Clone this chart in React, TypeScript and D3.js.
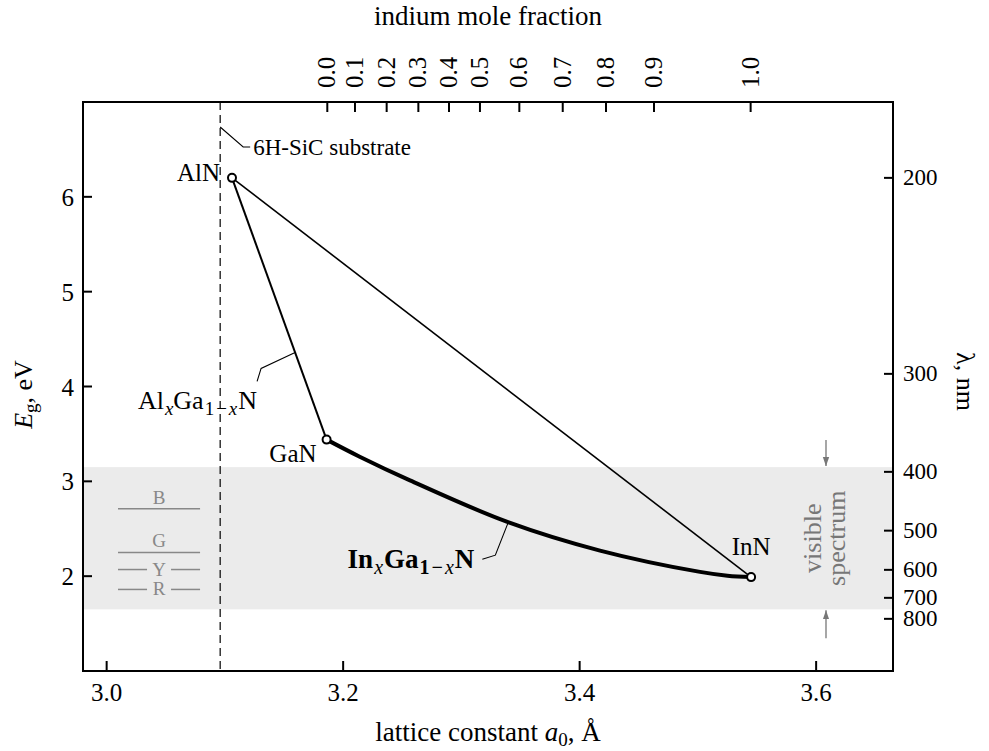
import React from "react";
import * as d3 from "d3";

// ---- data ----
const latticeTicks = [3.0, 3.2, 3.4, 3.6];
const energyTicks = [2, 3, 4, 5, 6];
const wavelengthTicks = [200, 300, 400, 500, 600, 700, 800];
const moleFractionLabels = ["0.0", "0.1", "0.2", "0.3", "0.4", "0.5", "0.6", "0.7", "0.8", "0.9", "1.0"];
const moleFractionLattice = [3.1866, 3.21, 3.2368, 3.2636, 3.2895, 3.3157, 3.349, 3.3857, 3.4223, 3.4629, 3.5446];

const compoundNames = ["AlN", "GaN", "InN"];
const compoundLattice = [3.106, 3.186, 3.545];
const compoundGap = [6.2, 3.44, 1.99];

const inGaNLattice = [3.186, 3.214, 3.2565, 3.3383, 3.4172, 3.5018, 3.525, 3.545];
const inGaNGap = [3.44, 3.26, 3.01, 2.575, 2.27, 2.045, 2.005, 1.99];

const substrateLattice = 3.096;
const visibleBand = [1.65, 3.15];
const colorNames = ["B", "G", "Y", "R"];
const colorGaps = [2.71, 2.25, 2.07, 1.86];

const W = 989, H = 751;
const FONT = "'Liberation Serif', 'Times New Roman', serif";

export default function App() {
  const x = d3.scaleLinear().domain([2.98, 3.665]).range([83, 893]);
  const y = d3.scaleLinear().domain([1, 7]).range([671, 102]);
  const [x0, x1] = x.range();
  const [yb, yt] = y.range();

  const curve = d3
    .line<number>()
    .x((_, i) => x(inGaNLattice[i]))
    .y((_, i) => y(inGaNGap[i]))
    .curve(d3.curveCatmullRom.alpha(0.5))(inGaNLattice);

  const pt = (i: number) => [x(compoundLattice[i]), y(compoundGap[i])];
  const [alx, aly] = pt(0);
  const [gax, gay] = pt(1);
  const [inx, iny] = pt(2);

  // leader anchor on AlN-GaN line
  const t = 0.667;
  const algLx = alx + (gax - alx) * t;
  const algLy = aly + (gay - aly) * t;
  // leader anchor on InGaN curve
  const aL = 3.3397;
  const eL = d3.scaleLinear().domain(inGaNLattice).range(inGaNGap)(aL);
  const ingLx = x(aL), ingLy = y(eL);

  const grey = "#777";
  const legendA0 = 3.0096, legendA1 = 3.079, legendAc = 3.0443;

  return (
    <svg width={W} height={H} style={{ position: "absolute", left: 0, top: 0, background: "#fff" }} fontFamily={FONT}>
      <defs>
        <marker id="arr" viewBox="0 0 10 10" refX="10" refY="5" markerWidth="7" markerHeight="7" orient="auto-start-reverse">
          <path d="M0,1.5 L10,5 L0,8.5 z" fill={grey} />
        </marker>
      </defs>
      {/* visible band */}
      <rect x={x0} width={x1 - x0} y={y(visibleBand[1])} height={y(visibleBand[0]) - y(visibleBand[1])} fill="#ebebeb" />

      {/* colour legend */}
      {colorNames.map((c, i) => {
        const yy = y(colorGaps[i]);
        const above = i < 2;
        return (
          <g key={c} stroke="#888" fill="#888">
            {above ? (
              <line x1={x(legendA0)} x2={x(legendA1)} y1={yy} y2={yy} strokeWidth={1.5} />
            ) : (
              <>
                <line x1={x(legendA0)} x2={x(legendAc) - 12} y1={yy} y2={yy} strokeWidth={1.5} />
                <line x1={x(legendAc) + 12} x2={x(legendA1)} y1={yy} y2={yy} strokeWidth={1.5} />
              </>
            )}
            <text x={x(legendAc)} y={above ? yy - 5 : yy + 6} textAnchor="middle" fontSize={19} stroke="none">
              {c}
            </text>
          </g>
        );
      })}

      {/* substrate dashed line */}
      <line x1={x(substrateLattice)} x2={x(substrateLattice)} y1={yt} y2={yb} stroke="#000" strokeWidth={1.2} strokeDasharray="8,5" />
      <polyline
        points={`${x(substrateLattice)},${yt + 25} ${x(substrateLattice) + 23},${yt + 45} ${x(substrateLattice) + 30},${yt + 45}`}
        fill="none" stroke="#000" strokeWidth={1.1}
      />
      <text x={x(substrateLattice) + 33} y={yt + 53} fontSize={23}>6H-SiC substrate</text>

      {/* lines */}
      <line x1={alx} y1={aly} x2={inx} y2={iny} stroke="#000" strokeWidth={1.6} />
      <line x1={alx} y1={aly} x2={gax} y2={gay} stroke="#000" strokeWidth={2} />
      <path d={curve || ""} fill="none" stroke="#000" strokeWidth={4} strokeLinecap="round" />

      {/* points */}
      {compoundNames.map((n, i) => (
        <circle key={n} cx={x(compoundLattice[i])} cy={y(compoundGap[i])} r={4} fill="#fff" stroke="#000" strokeWidth={2} />
      ))}
      <text x={alx - 12} y={aly + 3} textAnchor="end" fontSize={25}>AlN</text>
      <text x={gax - 10} y={gay + 22} textAnchor="end" fontSize={25}>GaN</text>
      <text x={inx} y={iny - 22} textAnchor="middle" fontSize={25}>InN</text>

      {/* AlGaN label */}
      <polyline points={`${algLx},${algLy} ${algLx - 34},${algLy + 16} ${algLx - 38},${algLy + 29}`} fill="none" stroke="#000" strokeWidth={1.1} />
      <text x={algLx - 38} y={algLy + 57} textAnchor="end" fontSize={26}>
        Al<tspan fontStyle="italic" fontSize={19} dy={6} dx={1}>x</tspan>
        <tspan dy={-6}>Ga</tspan>
        <tspan fontSize={19} dy={6} dx={1}>1</tspan>
        <tspan fontSize={19} dx={2}>−</tspan>
        <tspan fontSize={19} fontStyle="italic" dx={2}>x</tspan>
        <tspan dy={-6} dx={1}>N</tspan>
      </text>

      {/* InGaN label */}
      <polyline points={`${ingLx},${ingLy} ${ingLx - 13},${ingLy + 33} ${ingLx - 26},${ingLy + 37}`} fill="none" stroke="#000" strokeWidth={1.1} />
      <text x={ingLx - 34} y={ingLy + 46} textAnchor="end" fontSize={27} fontWeight="bold">
        In<tspan fontStyle="italic" fontWeight="normal" fontSize={20} dy={6} dx={1}>x</tspan>
        <tspan dy={-6} dx={1}>Ga</tspan>
        <tspan fontSize={20} dy={6} dx={1}>1</tspan>
        <tspan fontSize={20} dx={2}>−</tspan>
        <tspan fontSize={20} fontStyle="italic" fontWeight="normal" dx={2}>x</tspan>
        <tspan dy={-6} dx={1}>N</tspan>
      </text>

      {/* visible spectrum annotation */}
      <g fill={grey}>
        <text transform={`translate(821,${(y(visibleBand[0]) + y(visibleBand[1])) / 2}) rotate(-90)`} textAnchor="middle" fontSize={26}>visible</text>
        <text transform={`translate(845,${(y(visibleBand[0]) + y(visibleBand[1])) / 2}) rotate(-90)`} textAnchor="middle" fontSize={26}>spectrum</text>
      </g>
      <line x1={826} x2={826} y1={y(visibleBand[1]) - 27} y2={y(visibleBand[1]) - 1} stroke={grey} strokeWidth={1.3} markerEnd="url(#arr)" />
      <line x1={826} x2={826} y1={y(visibleBand[0]) + 29} y2={y(visibleBand[0]) + 1} stroke={grey} strokeWidth={1.3} markerEnd="url(#arr)" />

      {/* frame */}
      <rect x={x0} y={yt} width={x1 - x0} height={yb - yt} fill="none" stroke="#000" strokeWidth={2} />

      {/* bottom axis */}
      {latticeTicks.map((v) => (
        <g key={v}>
          <line x1={x(v)} x2={x(v)} y1={yb} y2={yb - 10} stroke="#000" strokeWidth={2} />
          <text x={x(v)} y={yb + 30} textAnchor="middle" fontSize={25}>{v.toFixed(1)}</text>
        </g>
      ))}
      <text x={(x0 + x1) / 2} y={741} textAnchor="middle" fontSize={27}>
        lattice constant <tspan fontStyle="italic">a</tspan>
        <tspan fontSize={19} dy={5}>0</tspan>
        <tspan dy={-5}>, Å</tspan>
      </text>

      {/* left axis */}
      {energyTicks.map((v) => (
        <g key={v}>
          <line x1={x0} x2={x0 + 9} y1={y(v)} y2={y(v)} stroke="#000" strokeWidth={2} />
          <text x={x0 - 9} y={y(v) + 9} textAnchor="end" fontSize={25}>{v}</text>
        </g>
      ))}
      <text transform={`translate(32,${(yt + yb) / 2 + 8}) rotate(-90)`} textAnchor="middle" fontSize={26}>
        <tspan fontStyle="italic">E</tspan>
        <tspan fontSize={19} dy={5}>g</tspan>
        <tspan dy={-5}>, eV</tspan>
      </text>

      {/* right axis */}
      {wavelengthTicks.map((v) => (
        <g key={v}>
          <line x1={x1} x2={x1 - 9} y1={y(1240 / v)} y2={y(1240 / v)} stroke="#000" strokeWidth={2} />
          <text x={x1 + 10} y={y(1240 / v) + 7} fontSize={23}>{v}</text>
        </g>
      ))}
      <text transform={`translate(957,${(yt + yb) / 2 - 5}) rotate(90)`} textAnchor="middle" fontSize={26}>λ, nm</text>

      {/* top axis */}
      {moleFractionLabels.map((lab, i) => (
        <g key={lab}>
          <line x1={x(moleFractionLattice[i])} x2={x(moleFractionLattice[i])} y1={yt} y2={yt + 10} stroke="#000" strokeWidth={2} />
          <text transform={`translate(${x(moleFractionLattice[i]) + 8},${yt - 14}) rotate(-90)`} fontSize={25}>{lab}</text>
        </g>
      ))}
      <text x={488} y={25} textAnchor="middle" fontSize={27}>indium mole fraction</text>
    </svg>
  );
}
